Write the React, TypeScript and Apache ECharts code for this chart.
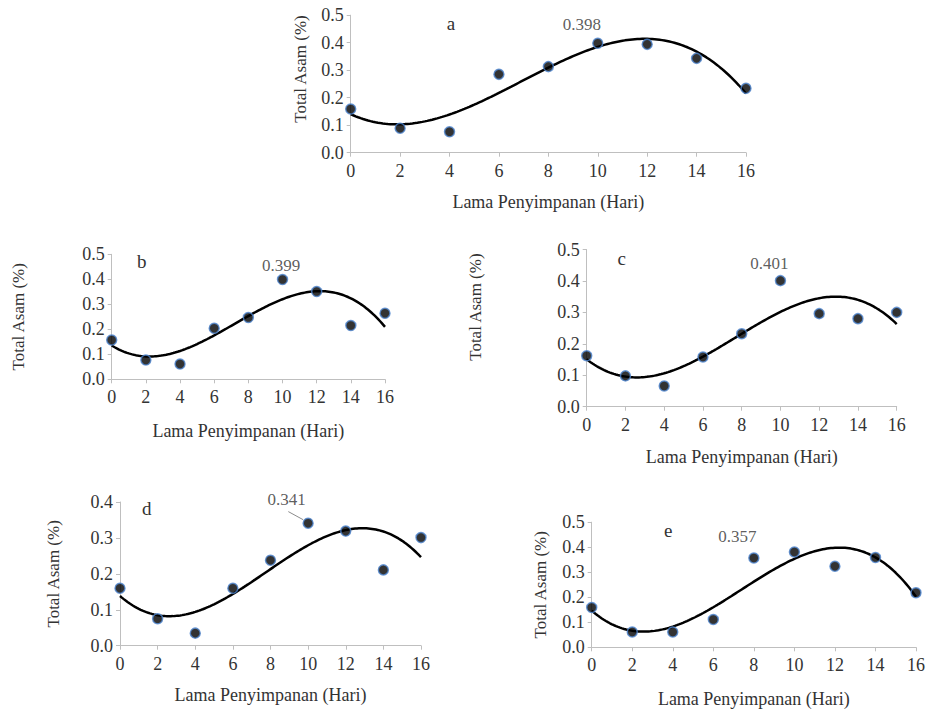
import React, { useEffect, useRef } from "react";
import * as echarts from "echarts";

// ---- data ----
const X_DAYS = [0, 2, 4, 6, 8, 10, 12, 14, 16];
const SERIES_A = [0.159, 0.089, 0.076, 0.285, 0.313, 0.398, 0.394, 0.343, 0.234];
const SERIES_B = [0.157, 0.077, 0.061, 0.204, 0.247, 0.399, 0.351, 0.215, 0.264];
const SERIES_C = [0.162, 0.098, 0.066, 0.158, 0.232, 0.401, 0.296, 0.28, 0.3];
const SERIES_D = [0.16, 0.075, 0.035, 0.16, 0.238, 0.341, 0.319, 0.211, 0.301];
const SERIES_E = [0.159, 0.061, 0.061, 0.111, 0.357, 0.381, 0.324, 0.359, 0.218];
const PANEL_LETTERS = ["a", "b", "c", "d", "e"];
const Y_MAX = [0.5, 0.5, 0.5, 0.4, 0.5];
const LABELED_INDEX = [5, 5, 5, 5, 4];
const X_TITLE = "Lama Penyimpanan (Hari)";
const Y_TITLE = "Total Asam (%)";

// ---- layout / style ----
const FONT = "Liberation Serif, serif";
const TEXT = "#333333";
const AXIS = "#bfbfbf";

const LAYOUT = [
  { left: 350.7, top: 15.2, width: 395.3, height: 137.5, xGap: 40, yGap: 41.7, yPad: 30, letter: [451, 23.3], labelOffset: [-16, 0] },
  { left: 111.7, top: 254.3, width: 273.3, height: 125, xGap: 43, yGap: 84.7, yPad: 0, letter: [141.7, 261.7], labelOffset: [-1.5, 5] },
  { left: 586.7, top: 249.5, width: 310, height: 157.2, xGap: 41, yGap: 102.7, yPad: 42, letter: [621.7, 258.3], labelOffset: [-11, 2.5] },
  { left: 120, top: 502, width: 301, height: 143.7, xGap: 40, yGap: 58, yPad: 0, letter: [146.7, 508.3], labelOffset: [-21.4, -4.3] },
  { left: 591.7, top: 522.2, width: 326.6, height: 127.8, xGap: 42.7, yGap: 42.7, yPad: 0, letter: [668.3, 530.7], labelOffset: [-16.6, -2.5] },
];

function polyFit(xs: number[], ys: number[], degree: number): number[] {
  const n = degree + 1;
  const m: number[][] = [];
  for (let i = 0; i < n; i++) {
    const row: number[] = [];
    for (let j = 0; j < n; j++) {
      let s = 0;
      for (let k = 0; k < xs.length; k++) s += Math.pow(xs[k], i + j);
      row.push(s);
    }
    let r = 0;
    for (let k = 0; k < xs.length; k++) r += ys[k] * Math.pow(xs[k], i);
    row.push(r);
    m.push(row);
  }
  for (let c = 0; c < n; c++) {
    let p = c;
    for (let r = c + 1; r < n; r++) if (Math.abs(m[r][c]) > Math.abs(m[p][c])) p = r;
    [m[c], m[p]] = [m[p], m[c]];
    for (let r = 0; r < n; r++) {
      if (r === c) continue;
      const f = m[r][c] / m[c][c];
      for (let k = c; k <= n; k++) m[r][k] -= f * m[c][k];
    }
  }
  return m.map((row, i) => row[n] / row[i]);
}

export default function App() {
  const ref = useRef<HTMLDivElement>(null);
  useEffect(() => {
    if (!ref.current) return;
    const chart = echarts.init(ref.current, undefined, { renderer: "svg" });
    const all = [SERIES_A, SERIES_B, SERIES_C, SERIES_D, SERIES_E];

    const grid: any[] = [];
    const xAxis: any[] = [];
    const yAxis: any[] = [];
    const series: any[] = [];
    const graphic: any[] = [];

    all.forEach((vals, i) => {
      const L = LAYOUT[i];
      grid.push({ left: L.left, top: L.top, width: L.width, height: L.height, containLabel: false });
      xAxis.push({
        type: "value", gridIndex: i, min: 0, max: 16, interval: 2,
        axisLine: { show: true, lineStyle: { color: AXIS, width: 1 } },
        axisTick: { show: true, length: 4, lineStyle: { color: AXIS } },
        splitLine: { show: false },
        axisLabel: { color: TEXT, fontFamily: FONT, fontSize: 18, margin: 9 },
        name: X_TITLE, nameLocation: "middle", nameGap: L.xGap,
        nameTextStyle: { color: TEXT, fontFamily: FONT, fontSize: 18 },
      });
      yAxis.push({
        type: "value", gridIndex: i, min: 0, max: Y_MAX[i], interval: 0.1,
        axisLine: { show: true, lineStyle: { color: AXIS, width: 1 } },
        axisTick: { show: true, length: 4, lineStyle: { color: AXIS } },
        splitLine: { show: false },
        axisLabel: { color: TEXT, fontFamily: FONT, fontSize: 18, margin: 7, formatter: (v: number) => v.toFixed(1) },
        name: Y_TITLE, nameLocation: "middle", nameGap: L.yGap, nameRotate: 90,
        nameTextStyle: { color: TEXT, fontFamily: FONT, fontSize: 17, padding: [0, 0, 0, L.yPad] },
      });

      const coef = polyFit(X_DAYS, vals, 3);
      const trend: number[][] = [];
      for (let k = 0; k <= 160; k++) {
        const x = k / 10;
        trend.push([x, coef[0] + coef[1] * x + coef[2] * x * x + coef[3] * x * x * x]);
      }
      series.push({
        type: "line", xAxisIndex: i, yAxisIndex: i, data: trend, showSymbol: false, symbol: "none",
        lineStyle: { color: "#000", width: 2.5 }, z: 2, silent: true,
      });
      series.push({
        type: "scatter", xAxisIndex: i, yAxisIndex: i, z: 3,
        symbolSize: 10,
        itemStyle: { color: "#000", borderColor: "#4f86d0", borderWidth: 1.5 },
        data: X_DAYS.map((x, k) => {
          const item: any = { value: [x, vals[k]] };
          if (k === LABELED_INDEX[i]) {
            item.label = {
              show: true, position: "top", offset: L.labelOffset,
              formatter: (p: any) => p.value[1].toFixed(3),
              color: TEXT, fontFamily: FONT, fontSize: 17,
            };
          }
          return item;
        }),
      });
      graphic.push({
        type: "text", x: L.letter[0], y: L.letter[1],
        style: { text: PANEL_LETTERS[i], fill: TEXT, fontFamily: FONT, fontSize: 19, align: "center", verticalAlign: "middle" },
      });
    });

    chart.setOption({ animation: false, backgroundColor: "#fff", textStyle: { fontFamily: FONT }, grid, xAxis, yAxis, series, graphic });

    // leader line for the labelled point of panel d
    const p = chart.convertToPixel({ gridIndex: 3 } as any, [X_DAYS[LABELED_INDEX[3]], SERIES_D[LABELED_INDEX[3]]]) as number[];
    graphic.push({
      type: "line",
      shape: { x1: p[0] - 19.8, y1: p[1] - 11.6, x2: p[0] - 5, y2: p[1] - 3.5 },
      style: { stroke: "#8c8c8c", lineWidth: 1 },
    });
    chart.setOption({ graphic });

    return () => chart.dispose();
  }, []);
  return <div ref={ref} style={{ position: "absolute", left: 0, top: 0, width: 928, height: 709, background: "#fff" }} />;
}
